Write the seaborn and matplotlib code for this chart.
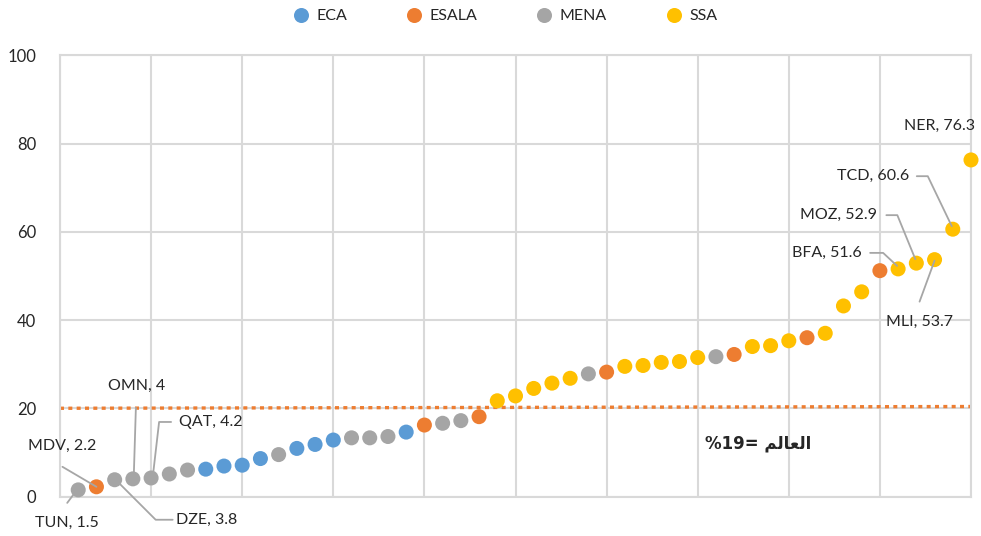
import numpy as np
import pandas as pd
import matplotlib
matplotlib.use("Agg")
import matplotlib.pyplot as plt
from matplotlib.lines import Line2D
from matplotlib.transforms import Affine2D, ScaledTranslation
import seaborn as sns

# ---------------- data ----------------
values = [1.5, 2.2, 3.8, 4.0, 4.2, 5.1, 6.0, 6.2, 6.9, 7.1,
          8.6, 9.5, 10.9, 11.8, 12.8, 13.3, 13.3, 13.6, 14.6, 16.2,
          16.6, 17.2, 18.1, 21.7, 22.8, 24.5, 25.7, 26.8, 27.8, 28.2,
          29.5, 29.7, 30.4, 30.6, 31.5, 31.7, 32.2, 34.0, 34.2, 35.3,
          36.0, 37.0, 43.2, 46.4, 51.2, 51.6, 52.9, 53.7, 60.6, 76.3]
regions = ["MENA", "ESALA", "MENA", "MENA", "MENA", "MENA", "MENA", "ECA", "ECA", "ECA",
           "ECA", "MENA", "ECA", "ECA", "ECA", "MENA", "MENA", "MENA", "ECA", "ESALA",
           "MENA", "MENA", "ESALA", "SSA", "SSA", "SSA", "SSA", "SSA", "MENA", "ESALA",
           "SSA", "SSA", "SSA", "SSA", "SSA", "MENA", "ESALA", "SSA", "SSA", "SSA",
           "ESALA", "SSA", "SSA", "SSA", "ESALA", "SSA", "SSA", "SSA", "SSA", "SSA"]
codes = ["TUN", "MDV", "DZE", "OMN", "QAT"] + [""] * 40 + ["BFA", "MOZ", "MLI", "TCD", "NER"]
region_order = ["ECA", "ESALA", "MENA", "SSA"]
region_colors = ["#5B9BD5", "#ED7D31", "#A5A5A5", "#FFC000"]
world_line_x = [0, 50]
world_line_y = [20.0, 20.4]
world_label = "%19= " + "\uFEE2\uFEDF\uFE8E\uFECC\uFEDF\uFE8D"  # العالم =19%

df = pd.DataFrame({"rank": np.arange(1, len(values) + 1),
                   "value": values, "region": regions, "code": codes})

# ---------------- style ----------------
sns.set_theme(style="white")
plt.rcParams["font.family"] = ["Lato", "DejaVu Sans"]
TXT = "#262626"
GRID = "#D9D9D9"

fig = plt.figure(figsize=(9.81, 5.36), dpi=100)
ax = fig.add_axes([60 / 981, 1 - 496.5 / 536, 911 / 981, 441.1 / 536])

sns.scatterplot(data=df, x="rank", y="value", hue="region", hue_order=region_order,
                palette=dict(zip(region_order, region_colors)), s=117, linewidth=0,
                ax=ax, zorder=3, clip_on=False)

ax.plot(world_line_x, world_line_y, color="#ED7D31", lw=2.4,
        linestyle=(0, (1.2, 1.3)), dash_capstyle="butt", zorder=2)

ax.set_xlim(0, 50)
ax.set_ylim(0, 100)
ax.set_xticks(np.arange(0, 51, 5))
ax.set_xticklabels([])
ax.set_yticks(np.arange(0, 101, 20))
ax.tick_params(axis="both", length=0)
ax.tick_params(axis="y", pad=17, labelsize=12, labelcolor=TXT)
ax.set_xlabel("")
ax.set_ylabel("")
ax.grid(True, color=GRID, lw=1.5, zorder=0)
ax.set_axisbelow(True)
for sp in ax.spines.values():
    sp.set_visible(True)
    sp.set_color(GRID)
    sp.set_linewidth(1.5)

# ---------------- annotations ----------------
# offsets in pixels relative to the point: (text dx, dy, ha), leader polyline
ann_layout = {
    "TUN": ((-11.5, -33, "center"), [(-11, -13), (-5, -5)]),
    "MDV": ((-34, 41, "center"), [(-34, 20), (0, 0)]),
    "DZE": ((61, -40, "left"), [(58, -40), (41, -40), (4, -3)]),
    "OMN": ((4, 93, "center"), [(3, 71), (1, 6)]),
    "QAT": ((28, 56, "left"), [(20, 56), (8, 56), (2, 4)]),
    "BFA": ((-36, 16, "right"), [(-28, 16), (-15, 16), (-1, 3)]),
    "MOZ": ((-39, 48, "right"), [(-30, 48), (-19, 48), (-1, 4)]),
    "MLI": ((-15, -62, "center"), [(-15, -42), (0, -1)]),
    "TCD": ((-44, 53, "right"), [(-36, 53), (-25, 53), (-1, 3)]),
    "NER": ((-31, 34, "center"), []),
}
for _, row in df[df["code"] != ""].iterrows():
    (dx, dy, ha), pts = ann_layout[row["code"]]
    ax.annotate(f"{row['code']}, {row['value']:g}", xy=(row["rank"], row["value"]),
                xytext=(dx, dy), textcoords="offset pixels", ha=ha, va="center",
                fontsize=11.5, color=TXT, annotation_clip=False)
    if pts:
        tr = Affine2D() + ScaledTranslation(row["rank"], row["value"], ax.transData)
        xs, ys = zip(*pts)
        ax.add_line(Line2D(xs, ys, transform=tr, color="#A6A6A6", lw=1.3,
                           clip_on=False, zorder=4))

ax.text(38.3, 12.1, world_label, ha="center", va="center", fontsize=12,
        fontweight="bold", color=TXT, family=["DejaVu Sans"])

sns.move_legend(ax, "center", bbox_to_anchor=(0.515, 1 - 16 / 536),
                bbox_transform=fig.transFigure, ncol=4, frameon=False, title=None,
                fontsize=11.5, handlelength=1.0, handletextpad=0.45, columnspacing=3.7)
for t in ax.get_legend().get_texts():
    t.set_color(TXT)

fig.savefig("out.png", dpi=100)
